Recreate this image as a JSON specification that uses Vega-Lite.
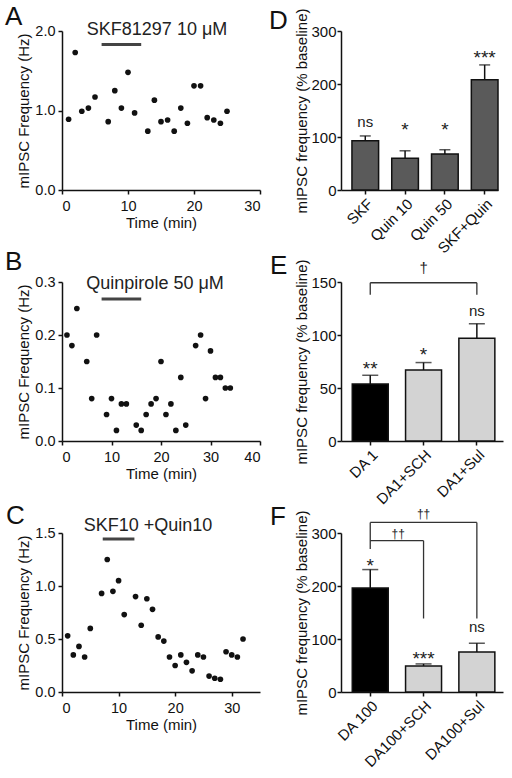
{
  "$schema": "https://vega.github.io/schema/vega-lite/v6.json",
  "padding": {"left": 5, "top": 4, "right": 5, "bottom": 5},
  "columns": 2,
  "spacing": {"row": 92, "column": 81},
  "bounds": "flush",
  "align": "each",
  "config": {
    "view": {"stroke": null},
    "font": "Liberation Sans",
    "axis": {
      "grid": false, "domainColor": "#111", "domainWidth": 1.5, "tickColor": "#111", "tickWidth": 1.5, "tickSize": 4,
      "labelFont": "Liberation Sans", "labelFontSize": 14.5, "labelColor": "#111", "labelOverlap": false,
      "titleFont": "Liberation Sans", "titleFontSize": 15, "titleFontWeight": "normal", "titleColor": "#111"
    },
    "title": {"font": "Liberation Sans", "fontSize": 26, "fontWeight": "normal", "anchor": "start", "frame": "group", "offset": 0, "baseline": "alphabetic", "color": "#111"},
    "text": {"font": "Liberation Sans", "color": "#222"}
  },
  "concat": [
    {
      "width": 198, "height": 159,
      "title": {"text": "A", "dx": -57, "dy": 13.4},
      "layer": [
        {
          "data": {"values": [
            {"t": 1, "f": 0.89}, {"t": 2, "f": 1.73}, {"t": 3, "f": 0.99}, {"t": 4, "f": 1.03}, {"t": 5, "f": 1.17},
            {"t": 7, "f": 0.86}, {"t": 8, "f": 1.25}, {"t": 9, "f": 1.03}, {"t": 10, "f": 1.48}, {"t": 11, "f": 0.97},
            {"t": 13, "f": 0.74}, {"t": 14, "f": 1.13}, {"t": 15, "f": 0.86}, {"t": 16, "f": 0.88}, {"t": 17, "f": 0.74},
            {"t": 18, "f": 1.03}, {"t": 19, "f": 0.84}, {"t": 20, "f": 1.31}, {"t": 21, "f": 1.31}, {"t": 22, "f": 0.91},
            {"t": 23, "f": 0.88}, {"t": 24, "f": 0.84}, {"t": 25, "f": 0.99}
          ]},
          "mark": {"type": "circle", "size": 32, "color": "#111", "opacity": 1},
          "encoding": {
            "x": {"field": "t", "type": "quantitative", "scale": {"domain": [0, 30], "nice": false},
                  "axis": {"title": "Time (min)", "values": [0, 5, 10, 15, 20, 25, 30], "labelPadding": 5, "titlePadding": 2.6}},
            "y": {"field": "f", "type": "quantitative", "scale": {"domain": [0, 2], "nice": false},
                  "axis": {"title": "mIPSC Frequency (Hz)", "values": [0, 0.5, 1, 1.5, 2], "format": ".1f", "labelPadding": 3, "titlePadding": 3}}
          }
        },
        {
          "data": {"values": [{"s": 6, "e": 12, "y": 1.83}]},
          "mark": {"type": "rule", "strokeWidth": 3, "color": "#444"},
          "encoding": {"x": {"field": "s", "type": "quantitative"}, "x2": {"field": "e"}, "y": {"field": "y", "type": "quantitative"}}
        },
        {
          "data": {"values": [{"label": "SKF81297 10 μM", "x": 14.4, "y": 1.953}]},
          "mark": {"type": "text", "fontSize": 18, "baseline": "alphabetic", "align": "center"},
          "encoding": {"x": {"field": "x", "type": "quantitative"}, "y": {"field": "y", "type": "quantitative"}, "text": {"field": "label"}}
        }
      ]
    },
    {
      "width": 157, "height": 159,
      "title": {"text": "D", "dx": -72, "dy": 30},
      "layer": [
        {
          "mark": {"type": "rule", "strokeDash": [1.5, 3.5], "strokeWidth": 1.5, "color": "#444"},
          "encoding": {"y": {"datum": 100, "type": "quantitative"}}
        },
        {
          "data": {"values": [
            {"c": "SKF", "m": 93, "u": 102}, {"c": "Quin 10", "m": 60, "u": 74},
            {"c": "Quin 50", "m": 68, "u": 76}, {"c": "SKF+Quin", "m": 208, "u": 236}
          ]},
          "layer": [
            {
              "mark": {"type": "bar", "fill": "#5a5a5a", "stroke": "#111", "strokeWidth": 1.5},
              "encoding": {
                "x": {"field": "c", "type": "nominal",
                      "scale": {"domain": ["SKF", "Quin 10", "Quin 50", "SKF+Quin"], "paddingInner": 0.33, "paddingOuter": 0.1375, "align": 1},
                      "axis": {"title": null, "labelAngle": -45, "labelFontSize": 15, "labelPadding": 2}},
                "y": {"field": "m", "type": "quantitative", "scale": {"domain": [0, 300], "nice": false},
                      "axis": {"title": "mIPSC frequency (% baseline)", "values": [0, 100, 200, 300], "labelFontSize": 15, "labelPadding": 1, "titlePadding": 1}}
              }
            },
            {
              "mark": {"type": "rule", "color": "#111", "strokeWidth": 1.5},
              "encoding": {"x": {"field": "c", "type": "nominal"}, "y": {"field": "m", "type": "quantitative"}, "y2": {"field": "u"}}
            },
            {
              "mark": {"type": "tick", "color": "#111", "size": 11, "thickness": 1.5, "orient": "horizontal"},
              "encoding": {"x": {"field": "c", "type": "nominal"}, "y": {"field": "u", "type": "quantitative"}}
            }
          ]
        },
        {
          "data": {"values": [{"c": "SKF", "s": "ns", "y": 118.5}]},
          "mark": {"type": "text", "fontSize": 15, "baseline": "alphabetic"},
          "encoding": {"x": {"field": "c", "type": "nominal"}, "y": {"field": "y", "type": "quantitative"}, "text": {"field": "s"}}
        },
        {
          "data": {"values": [{"c": "Quin 10", "s": "*", "y": 102}, {"c": "Quin 50", "s": "*", "y": 102}, {"c": "SKF+Quin", "s": "***", "y": 237.5}]},
          "mark": {"type": "text", "fontSize": 19, "baseline": "alphabetic"},
          "encoding": {"x": {"field": "c", "type": "nominal"}, "y": {"field": "y", "type": "quantitative"}, "text": {"field": "s"}}
        }
      ]
    },
    {
      "width": 198, "height": 159,
      "title": {"text": "B", "dx": -57, "dy": 4.7},
      "layer": [
        {
          "data": {"values": [
            {"t": 1, "f": 0.20}, {"t": 2, "f": 0.18}, {"t": 3, "f": 0.25}, {"t": 5, "f": 0.15}, {"t": 6, "f": 0.08},
            {"t": 7, "f": 0.20}, {"t": 9, "f": 0.05}, {"t": 10, "f": 0.08}, {"t": 11, "f": 0.02}, {"t": 12, "f": 0.07},
            {"t": 13, "f": 0.07}, {"t": 15, "f": 0.03}, {"t": 16, "f": 0.02}, {"t": 17, "f": 0.05}, {"t": 18, "f": 0.07},
            {"t": 19, "f": 0.08}, {"t": 20, "f": 0.15}, {"t": 21, "f": 0.05}, {"t": 22, "f": 0.07}, {"t": 23, "f": 0.02},
            {"t": 24, "f": 0.12}, {"t": 25, "f": 0.03}, {"t": 27, "f": 0.18}, {"t": 28, "f": 0.20}, {"t": 29, "f": 0.08},
            {"t": 30, "f": 0.17}, {"t": 31, "f": 0.12}, {"t": 32, "f": 0.12}, {"t": 33, "f": 0.10}, {"t": 34, "f": 0.10}
          ]},
          "mark": {"type": "circle", "size": 32, "color": "#111", "opacity": 1},
          "encoding": {
            "x": {"field": "t", "type": "quantitative", "scale": {"domain": [0, 40], "nice": false},
                  "axis": {"title": "Time (min)", "values": [0, 10, 20, 30, 40], "labelPadding": 5, "titlePadding": 2.6}},
            "y": {"field": "f", "type": "quantitative", "scale": {"domain": [0, 0.3], "nice": false},
                  "axis": {"title": "mIPSC Frequency (Hz)", "values": [0, 0.1, 0.2, 0.3], "format": ".1f", "labelPadding": 3, "titlePadding": 3}}
          }
        },
        {
          "data": {"values": [{"s": 8, "e": 16, "y": 0.268}]},
          "mark": {"type": "rule", "strokeWidth": 3, "color": "#444"},
          "encoding": {"x": {"field": "s", "type": "quantitative"}, "x2": {"field": "e"}, "y": {"field": "y", "type": "quantitative"}}
        },
        {
          "data": {"values": [{"label": "Quinpirole 50 μM", "x": 18.8, "y": 0.287}]},
          "mark": {"type": "text", "fontSize": 18, "baseline": "alphabetic", "align": "center"},
          "encoding": {"x": {"field": "x", "type": "quantitative"}, "y": {"field": "y", "type": "quantitative"}, "text": {"field": "label"}}
        }
      ]
    },
    {
      "width": 162, "height": 159,
      "title": {"text": "E", "dx": -71, "dy": 24},
      "layer": [
        {
          "mark": {"type": "rule", "strokeDash": [1.5, 3.5], "strokeWidth": 1.5, "color": "#444"},
          "encoding": {"y": {"datum": 100, "type": "quantitative"}}
        },
        {
          "data": {"values": [
            {"c": "DA 1", "m": 53.75, "u": 62}, {"c": "DA1+SCH", "m": 67, "u": 74}, {"c": "DA1+Sul", "m": 97, "u": 110.6}
          ]},
          "layer": [
            {
              "mark": {"type": "bar", "stroke": "#111", "strokeWidth": 1.5},
              "encoding": {
                "x": {"field": "c", "type": "nominal",
                      "scale": {"domain": ["DA 1", "DA1+SCH", "DA1+Sul"], "paddingInner": 0.325, "paddingOuter": 0.182, "align": 0.58},
                      "axis": {"title": null, "labelAngle": -45, "labelFontSize": 15, "labelPadding": 2}},
                "y": {"field": "m", "type": "quantitative", "scale": {"domain": [0, 150], "nice": false},
                      "axis": {"title": "mIPSC frequency (% baseline)", "values": [0, 50, 100, 150], "labelFontSize": 15, "labelPadding": 1, "titlePadding": 1}},
                "fill": {"field": "c", "type": "nominal", "legend": null,
                         "scale": {"domain": ["DA 1", "DA1+SCH", "DA1+Sul"], "range": ["#000000", "#d3d3d3", "#d3d3d3"]}}
              }
            },
            {
              "mark": {"type": "rule", "color": "#111", "strokeWidth": 1.5},
              "encoding": {"x": {"field": "c", "type": "nominal"}, "y": {"field": "m", "type": "quantitative"}, "y2": {"field": "u"}}
            },
            {
              "mark": {"type": "tick", "color": "#111", "size": 16, "thickness": 1.5, "orient": "horizontal"},
              "encoding": {"x": {"field": "c", "type": "nominal"}, "y": {"field": "u", "type": "quantitative"}}
            }
          ]
        },
        {
          "data": {"values": [
            {"a": "DA 1", "b": "DA1+Sul", "y": 149.3, "y2": 149.3},
            {"a": "DA 1", "b": "DA 1", "y": 149.3, "y2": 138},
            {"a": "DA1+Sul", "b": "DA1+Sul", "y": 149.3, "y2": 138}
          ]},
          "mark": {"type": "rule", "color": "#333", "strokeWidth": 1.3},
          "encoding": {"x": {"field": "a", "type": "nominal"}, "x2": {"field": "b"}, "y": {"field": "y", "type": "quantitative"}, "y2": {"field": "y2"}}
        },
        {
          "data": {"values": [{"c": "DA1+Sul", "s": "ns", "y": 118}, {"c": "DA1+SCH", "s": "†", "y": 158.3}]},
          "mark": {"type": "text", "fontSize": 15, "baseline": "alphabetic"},
          "encoding": {"x": {"field": "c", "type": "nominal"}, "y": {"field": "y", "type": "quantitative"}, "text": {"field": "s"}}
        },
        {
          "data": {"values": [{"c": "DA 1", "s": "**", "y": 62.7}, {"c": "DA1+SCH", "s": "*", "y": 75.4}]},
          "mark": {"type": "text", "fontSize": 19, "baseline": "alphabetic"},
          "encoding": {"x": {"field": "c", "type": "nominal"}, "y": {"field": "y", "type": "quantitative"}, "text": {"field": "s"}}
        }
      ]
    },
    {
      "width": 198, "height": 159,
      "title": {"text": "C", "dx": -56, "dy": 16},
      "layer": [
        {
          "data": {"values": [
            {"t": 1, "f": 0.53}, {"t": 2, "f": 0.35}, {"t": 3, "f": 0.43}, {"t": 4, "f": 0.33}, {"t": 5, "f": 0.60},
            {"t": 7, "f": 0.93}, {"t": 8, "f": 1.25}, {"t": 9, "f": 0.95}, {"t": 10, "f": 1.05}, {"t": 11, "f": 0.73},
            {"t": 13, "f": 0.90}, {"t": 14, "f": 0.63}, {"t": 15, "f": 0.88}, {"t": 16, "f": 0.78}, {"t": 17, "f": 0.52},
            {"t": 18, "f": 0.48}, {"t": 19, "f": 0.33}, {"t": 20, "f": 0.25}, {"t": 21, "f": 0.35}, {"t": 22, "f": 0.28},
            {"t": 23, "f": 0.20}, {"t": 24, "f": 0.35}, {"t": 25, "f": 0.33}, {"t": 26, "f": 0.15}, {"t": 27, "f": 0.13},
            {"t": 28, "f": 0.12}, {"t": 29, "f": 0.38}, {"t": 30, "f": 0.35}, {"t": 31, "f": 0.33}, {"t": 32, "f": 0.50}
          ]},
          "mark": {"type": "circle", "size": 32, "color": "#111", "opacity": 1},
          "encoding": {
            "x": {"field": "t", "type": "quantitative", "scale": {"domain": [0, 35], "nice": false},
                  "axis": {"title": "Time (min)", "values": [0, 5, 10, 15, 20, 25, 30, 35], "labelPadding": 5, "titlePadding": 2.6}},
            "y": {"field": "f", "type": "quantitative", "scale": {"domain": [0, 1.5], "nice": false},
                  "axis": {"title": "mIPSC Frequency (Hz)", "values": [0, 0.5, 1, 1.5], "format": ".1f", "labelPadding": 3, "titlePadding": 3}}
          }
        },
        {
          "data": {"values": [{"s": 7.2, "e": 12.8, "y": 1.443}]},
          "mark": {"type": "rule", "strokeWidth": 3, "color": "#444"},
          "encoding": {"x": {"field": "s", "type": "quantitative"}, "x2": {"field": "e"}, "y": {"field": "y", "type": "quantitative"}}
        },
        {
          "data": {"values": [{"label": "SKF10 +Quin10", "x": 15.2, "y": 1.517}]},
          "mark": {"type": "text", "fontSize": 18, "baseline": "alphabetic", "align": "center"},
          "encoding": {"x": {"field": "x", "type": "quantitative"}, "y": {"field": "y", "type": "quantitative"}, "text": {"field": "label"}}
        }
      ]
    },
    {
      "width": 162, "height": 159,
      "title": {"text": "F", "dx": -71, "dy": 26},
      "layer": [
        {
          "mark": {"type": "rule", "strokeDash": [1.5, 3.5], "strokeWidth": 1.5, "color": "#444"},
          "encoding": {"y": {"datum": 100, "type": "quantitative"}}
        },
        {
          "data": {"values": [
            {"c": "DA 100", "m": 196, "u": 231}, {"c": "DA100+SCH", "m": 49, "u": 53}, {"c": "DA100+Sul", "m": 75.5, "u": 92}
          ]},
          "layer": [
            {
              "mark": {"type": "bar", "stroke": "#111", "strokeWidth": 1.5},
              "encoding": {
                "x": {"field": "c", "type": "nominal",
                      "scale": {"domain": ["DA 100", "DA100+SCH", "DA100+Sul"], "paddingInner": 0.325, "paddingOuter": 0.182, "align": 0.58},
                      "axis": {"title": null, "labelAngle": -45, "labelFontSize": 15, "labelPadding": 2}},
                "y": {"field": "m", "type": "quantitative", "scale": {"domain": [0, 300], "nice": false},
                      "axis": {"title": "mIPSC frequency (% baseline)", "values": [0, 100, 200, 300], "labelFontSize": 15, "labelPadding": 1, "titlePadding": 1}},
                "fill": {"field": "c", "type": "nominal", "legend": null,
                         "scale": {"domain": ["DA 100", "DA100+SCH", "DA100+Sul"], "range": ["#000000", "#d3d3d3", "#d3d3d3"]}}
              }
            },
            {
              "mark": {"type": "rule", "color": "#111", "strokeWidth": 1.5},
              "encoding": {"x": {"field": "c", "type": "nominal"}, "y": {"field": "m", "type": "quantitative"}, "y2": {"field": "u"}}
            },
            {
              "mark": {"type": "tick", "color": "#111", "size": 16, "thickness": 1.5, "orient": "horizontal"},
              "encoding": {"x": {"field": "c", "type": "nominal"}, "y": {"field": "u", "type": "quantitative"}}
            }
          ]
        },
        {
          "data": {"values": [
            {"a": "DA 100", "b": "DA100+Sul", "y": 320, "y2": 320},
            {"a": "DA 100", "b": "DA 100", "y": 320, "y2": 270},
            {"a": "DA100+Sul", "b": "DA100+Sul", "y": 320, "y2": 138.7},
            {"a": "DA 100", "b": "DA100+SCH", "y": 285.5, "y2": 285.5},
            {"a": "DA100+SCH", "b": "DA100+SCH", "y": 285.5, "y2": 138.7}
          ]},
          "mark": {"type": "rule", "color": "#333", "strokeWidth": 1.3},
          "encoding": {"x": {"field": "a", "type": "nominal"}, "x2": {"field": "b"}, "y": {"field": "y", "type": "quantitative"}, "y2": {"field": "y2"}}
        },
        {
          "data": {"values": [{"c": "DA100+Sul", "s": "ns", "y": 114}]},
          "mark": {"type": "text", "fontSize": 15, "baseline": "alphabetic"},
          "encoding": {"x": {"field": "c", "type": "nominal"}, "y": {"field": "y", "type": "quantitative"}, "text": {"field": "s"}}
        },
        {
          "data": {"values": [{"c": "DA100+SCH", "s": "††", "y": 329}]},
          "mark": {"type": "text", "fontSize": 12, "baseline": "alphabetic"},
          "encoding": {"x": {"field": "c", "type": "nominal"}, "y": {"field": "y", "type": "quantitative"}, "text": {"field": "s"}}
        },
        {
          "data": {"values": [{"c": "DA 100", "s": "††", "y": 291.5}]},
          "mark": {"type": "text", "fontSize": 12, "baseline": "alphabetic", "dx": 28},
          "encoding": {"x": {"field": "c", "type": "nominal"}, "y": {"field": "y", "type": "quantitative"}, "text": {"field": "s"}}
        },
        {
          "data": {"values": [{"c": "DA 100", "s": "*", "y": 227}, {"c": "DA100+SCH", "s": "***", "y": 50.8}]},
          "mark": {"type": "text", "fontSize": 19, "baseline": "alphabetic"},
          "encoding": {"x": {"field": "c", "type": "nominal"}, "y": {"field": "y", "type": "quantitative"}, "text": {"field": "s"}}
        }
      ]
    }
  ]
}
